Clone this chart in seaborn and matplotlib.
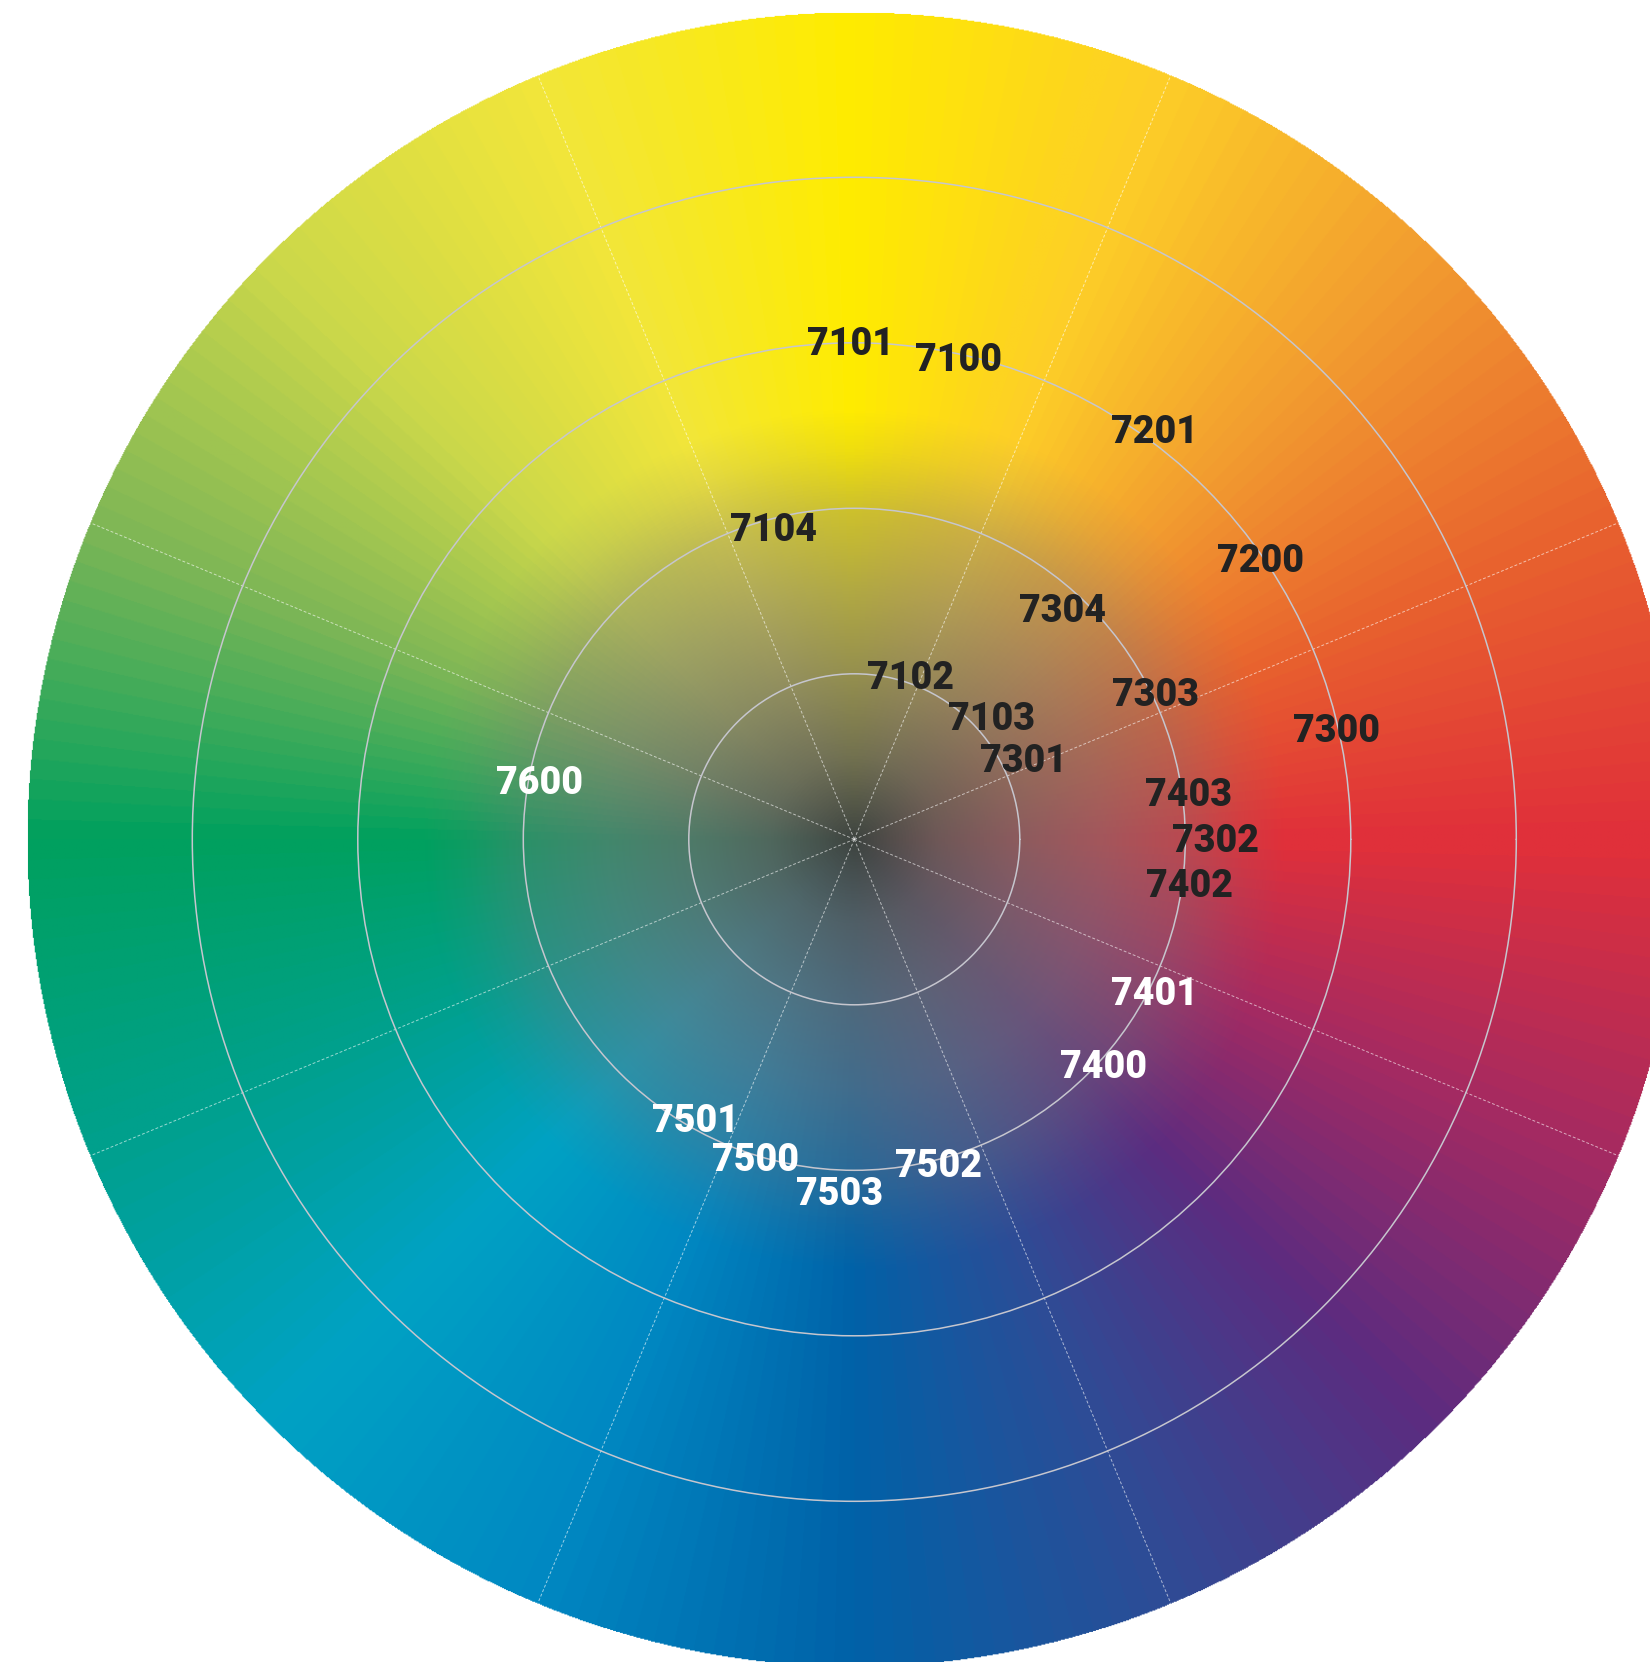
import matplotlib

matplotlib.use("Agg")

import matplotlib.pyplot as plt
import numpy as np
import seaborn as sns

from matplotlib.colors import LinearSegmentedColormap, to_rgba
from matplotlib.transforms import offset_copy

sns.set_theme(style="white")
plt.rcParams["font.family"] = ["Roboto", "DejaVu Sans"]

# Colour codes and where each sits on the wheel (angle in degrees, ring radius).
codes = ["7101", "7100", "7201", "7200", "7300", "7304", "7303", "7104",
         "7102", "7103", "7301", "7403", "7302", "7402", "7401", "7400",
         "7502", "7503", "7500", "7501", "7600"]
angles = [90.4, 77.9, 53.9, 34.9, 13.2, 48.2, 26.3, 104.4,
          71.2, 42.4, 26.1, 8.3, 0.5, -7.1, -26.6, -41.9,
          -75.4, -92.4, -107.4, -119.8, 169.1]
radii = [3.02, 2.99, 3.08, 2.99, 2.99, 1.89, 2.03, 1.96,
         1.06, 1.12, 1.14, 2.04, 2.18, 2.04, 2.03, 2.02,
         2.01, 2.12, 2.00, 1.93, 1.94]
light_codes = {"7401", "7400", "7502", "7503", "7500", "7501", "7600"}

# Rim hues every 22.5 degrees, counter-clockwise from 3 o'clock.
rim_hues = ["#E0303A", "#E8622E", "#F29C30", "#FDCE28",
            "#FFEC00", "#F2E63A", "#CCD84A", "#7EB656",
            "#00A05E", "#00A08E", "#00A2C4", "#0088C2",
            "#0062A8", "#2E4C96", "#5C2C80", "#A42A62"]
ring_radii = [1, 2, 3, 4]
wheel_radius = 5
sector_edges = np.arange(22.5, 360, 45)

# Greyed-out core: colour and opacity by fraction of the wheel radius.
core_stops = [(0.00, "#3E4440", 1.00), (0.10, "#5C5E5C", 0.86),
              (0.20, "#6C6C6C", 0.72), (0.30, "#747476", 0.56),
              (0.40, "#767678", 0.36), (0.47, "#787878", 0.12),
              (0.52, "#787878", 0.00), (1.00, "#787878", 0.00)]

hue_cmap = sns.blend_palette(rim_hues + rim_hues[:1], as_cmap=True)
core_cmap = LinearSegmentedColormap.from_list(
    "core", [(p, to_rgba(c, a)) for p, c, a in core_stops]
)

# Wheel centre at (854, 839) px, radius ~827 px; it runs off the right/bottom.
rect = [0.01624, -0.00289, 1.00303, 0.99579]
fig = plt.figure(figsize=(16.5, 16.62), dpi=100)

# Background colour field, painted in a plain axes under the polar one.
bg = fig.add_axes(rect)
n = 1700
xs = np.linspace(-wheel_radius, wheel_radius, n)
X, Y = np.meshgrid(xs, xs)
ang = np.mod(np.arctan2(Y, X), 2 * np.pi) / (2 * np.pi)
rad = np.hypot(X, Y) / wheel_radius
base = hue_cmap(ang)[..., :3]
core = core_cmap(np.clip(rad, 0, 1))
a = core[..., 3:4]
rgb = base * (1 - a) + core[..., :3] * a
img = np.dstack([rgb, (rad <= 1).astype(float)])
bg.imshow(img, origin="lower", extent=[-wheel_radius, wheel_radius] * 2,
          interpolation="bilinear")
bg.set_xlim(-wheel_radius, wheel_radius)
bg.set_ylim(-wheel_radius, wheel_radius)
bg.axis("off")

ax = fig.add_axes(rect, projection="polar")
ax.patch.set_alpha(0)
ax.set_ylim(0, wheel_radius)
ax.set_yticks(ring_radii)
ax.set_yticklabels([])
ax.set_xticks(np.deg2rad(sector_edges))
ax.set_xticklabels([])
ax.grid(True)
for line in ax.yaxis.get_gridlines():
    line.set(color="#C6C6CE", linewidth=1.1, linestyle="-")
for line in ax.xaxis.get_gridlines():
    line.set(color="white", alpha=0.6, linewidth=0.7, linestyle=(0, (3, 2)))
ax.spines["polar"].set_visible(False)
ax.tick_params(length=0, pad=0)

# va="center" counts the descender, so nudge the digits down a touch
text_tf = offset_copy(ax.transData, fig=fig, y=-5, units="dots")
for code, t, rr in zip(codes, angles, radii):
    ax.text(np.deg2rad(t), rr, code, ha="center", va="center",
            transform=text_tf, fontsize=27, fontweight="black", zorder=4,
            color="white" if code in light_codes else "#222222")

fig.savefig("out.png", dpi=100)
